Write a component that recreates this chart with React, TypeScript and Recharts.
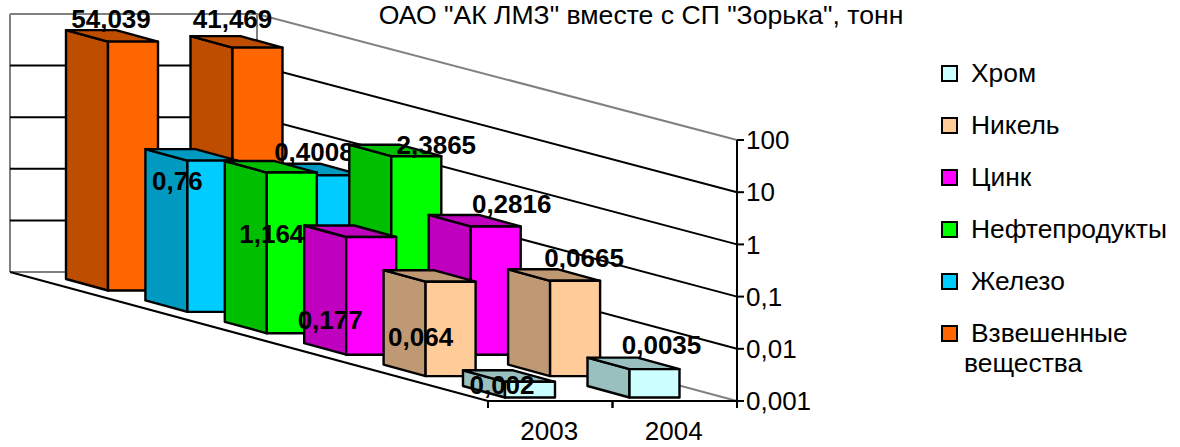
import React from "react";
import { BarChart, Bar, XAxis, YAxis, CartesianGrid, Legend } from "recharts";

const YEARS = ["2003", "2004"];
const HROM = [0.002, 0.0035];
const NIKEL = [0.064, 0.0665];
const TSINK = [0.177, 0.2816];
const NEFT = [1.164, 2.3865];
const ZHELEZO = [0.76, 0.4008];
const VZVESH = [54.039, 41.469];
const Y_TICKS = [0.001, 0.01, 0.1, 1, 10, 100];
const TITLE = 'ОАО "АК ЛМЗ" вместе с СП "Зорька", тонн';

// back series first, so nearer bars paint over it
const SERIES = [
  { key: "vzvesh", name: "Взвешенные вещества", values: VZVESH, color: "#FF6600", depth: 5 },
  { key: "zhelezo", name: "Железо", values: ZHELEZO, color: "#00CCFF", depth: 4 },
  { key: "neft", name: "Нефтепродукты", values: NEFT, color: "#00FF00", depth: 3 },
  { key: "tsink", name: "Цинк", values: TSINK, color: "#FF00FF", depth: 2 },
  { key: "nikel", name: "Никель", values: NIKEL, color: "#FFCC99", depth: 1 },
  { key: "hrom", name: "Хром", values: HROM, color: "#CCFFFF", depth: 0 },
];

const data = YEARS.map((year, i) => {
  const row: Record<string, unknown> = { year };
  for (const s of SERIES) row[s.key] = s.values[i];
  return row;
});

const FONT = "'Liberation Sans', Arial, sans-serif";
const WIDTH = 1180;
const HEIGHT = 447;
const PLOT_LEFT = 488;
const PLOT_RIGHT = 737;
const PLOT_TOP = 140;
const PLOT_BOTTOM = 401;
const BAR_W = 50;

// oblique projection of the floor, the back wall is a little shorter than the axis
const WALL_DX = 480;
const WALL_TOP = 14;
const WALL_BOTTOM = 272;
const WALL_W = 247;
const STEP_X = 79.4;
const STEP_Y = 21.4;
const BOX_DX = 42;
const BOX_DY = 11.5;

// data label offset from the top left corner of the front face, per series and year
const LABEL_NUDGE: Record<string, number[][]> = {
  vzvesh: [[3, -23], [0, -29]],
  zhelezo: [[-10, 20], [2, -23]],
  neft: [[5, 61], [45, -11]],
  tsink: [[-16, 83], [41, -22]],
  nikel: [[-5, 55], [34, -23]],
  hrom: [[-3, 3], [32, -24]],
};

const comma = (v: number) => String(v).replace(".", ",");

function shade(hex: string) {
  const n = parseInt(hex.slice(1), 16);
  const c = (v: number) => Math.round(v * 0.75);
  return `rgb(${c((n >> 16) & 255)},${c((n >> 8) & 255)},${c(n & 255)})`;
}

function makeCuboid(s: (typeof SERIES)[number]) {
  return function Cuboid(props: any) {
    const { x, width, height, index } = props;
    const baseline = props.y + height;
    const fx = x - 20 - s.depth * STEP_X;
    const bottom = baseline - 3.5 - s.depth * STEP_Y;
    const top = bottom - height * (1 + 0.0015 * s.depth);
    const dark = shade(s.color);
    const nudge = LABEL_NUDGE[s.key][index];
    const common = { stroke: "#000", strokeWidth: 2.4, strokeLinejoin: "round" as const };
    return (
      <g>
        <polygon
          points={`${fx},${top} ${fx},${bottom} ${fx - BOX_DX},${bottom - BOX_DY} ${fx - BOX_DX},${top - BOX_DY}`}
          fill={dark}
          {...common}
        />
        <polygon
          points={`${fx},${top} ${fx + width},${top} ${fx + width - BOX_DX},${top - BOX_DY} ${fx - BOX_DX},${top - BOX_DY}`}
          fill={dark}
          {...common}
        />
        <rect x={fx} y={top} width={width} height={bottom - top} fill={s.color} {...common} />
        <text
          x={fx + nudge[0]}
          y={top + nudge[1]}
          textAnchor="middle"
          dominantBaseline="central"
          fontFamily={FONT}
          fontWeight="bold"
          fontSize={26}
          fill="#000"
        >
          {comma(s.values[index])}
        </text>
      </g>
    );
  };
}

function WallLine(props: any) {
  const { x2, y1: y } = props;
  const isEdge = Math.abs(y - PLOT_TOP) < 1 || Math.abs(y - PLOT_BOTTOM) < 1;
  const isFloor = Math.abs(y - PLOT_BOTTOM) < 1;
  const color = isEdge ? "#808080" : "#000";
  const cornerX = x2 - WALL_DX;
  const cornerY = WALL_TOP + ((y - PLOT_TOP) * (WALL_BOTTOM - WALL_TOP)) / (PLOT_BOTTOM - PLOT_TOP);
  return (
    <g fill="none" strokeWidth={2}>
      <polyline points={`${x2},${y} ${cornerX},${cornerY} ${cornerX - WALL_W},${cornerY}`} stroke={color} />
      {isFloor && (
        <>
          <line x1={cornerX} y1={cornerY} x2={cornerX} y2={WALL_TOP} stroke="#808080" />
          <line x1={cornerX - WALL_W} y1={cornerY} x2={cornerX - WALL_W} y2={WALL_TOP} stroke="#808080" />
          <line x1={cornerX - WALL_W} y1={cornerY} x2={PLOT_LEFT} y2={y} stroke="#000" />
        </>
      )}
    </g>
  );
}

function YearTick(props: any) {
  const { x, payload } = props;
  const half = (PLOT_RIGHT - PLOT_LEFT) / YEARS.length / 2;
  return (
    <g>
      <line x1={x - half} y1={PLOT_BOTTOM} x2={x - half} y2={PLOT_BOTTOM + 7} stroke="#000" strokeWidth={2} />
      <line x1={x + half} y1={PLOT_BOTTOM} x2={x + half} y2={PLOT_BOTTOM + 7} stroke="#000" strokeWidth={2} />
      <text x={x - 1} y={PLOT_BOTTOM + 39} textAnchor="middle" fontFamily={FONT} fontSize={26} fill="#000">
        {payload.value}
      </text>
    </g>
  );
}

function LegendBox({ payload }: any) {
  const rows = [...(payload ?? [])].sort(
    (a: any, b: any) =>
      SERIES.findIndex((s) => s.name === b.value) - SERIES.findIndex((s) => s.name === a.value),
  );
  return (
    <div style={{ fontFamily: FONT, fontSize: 26.4, color: "#000", lineHeight: "30px" }}>
      {rows.map((item: any) => {
        const words = String(item.value).split(" ");
        return (
          <div key={item.value} style={{ position: "relative", height: 52 }}>
            <span
              style={{
                position: "absolute",
                left: 0,
                top: 7,
                width: 13,
                height: 13,
                background: item.color,
                border: "2px solid #000",
              }}
            />
            <span style={{ position: "absolute", left: 30, top: 0, whiteSpace: "nowrap" }}>{words[0]}</span>
            {words[1] && (
              <span style={{ position: "absolute", left: 23, top: 30, whiteSpace: "nowrap" }}>{words[1]}</span>
            )}
          </div>
        );
      })}
    </div>
  );
}

export default function App() {
  return (
    <div style={{ position: "absolute", left: 0, top: 0, width: WIDTH, height: HEIGHT, background: "#fff" }}>
      <BarChart
        width={WIDTH}
        height={HEIGHT}
        data={data}
        barSize={BAR_W}
        barGap={-BAR_W}
        margin={{ left: PLOT_LEFT, right: WIDTH - PLOT_RIGHT - 90, top: PLOT_TOP, bottom: HEIGHT - PLOT_BOTTOM - 40 }}
      >
        <CartesianGrid vertical={false} horizontal={(p: any) => <WallLine key={p.index} {...p} />} />
        <XAxis
          dataKey="year"
          height={40}
          interval={0}
          tickLine={false}
          axisLine={{ stroke: "#000", strokeWidth: 2 }}
          tick={<YearTick />}
        />
        <YAxis
          orientation="right"
          scale="log"
          domain={[0.001, 100]}
          ticks={Y_TICKS}
          interval={0}
          width={90}
          tickSize={7}
          tickMargin={2}
          tickFormatter={comma}
          axisLine={{ stroke: "#000", strokeWidth: 2 }}
          tickLine={{ stroke: "#000", strokeWidth: 2 }}
          tick={{ fill: "#000", fontSize: 26, fontFamily: FONT }}
        />
        {SERIES.map((s) => (
          <Bar
            key={s.key}
            dataKey={s.key}
            name={s.name}
            fill={s.color}
            shape={makeCuboid(s)}
            isAnimationActive={false}
          />
        ))}
        <Legend
          layout="vertical"
          align="center"
          verticalAlign="middle"
          content={<LegendBox />}
          wrapperStyle={{ left: 941, top: 58, width: 239 }}
        />
        <text x={641} y={24} textAnchor="middle" fontFamily={FONT} fontSize={26.6} fill="#000">
          {TITLE}
        </text>
      </BarChart>
    </div>
  );
}
